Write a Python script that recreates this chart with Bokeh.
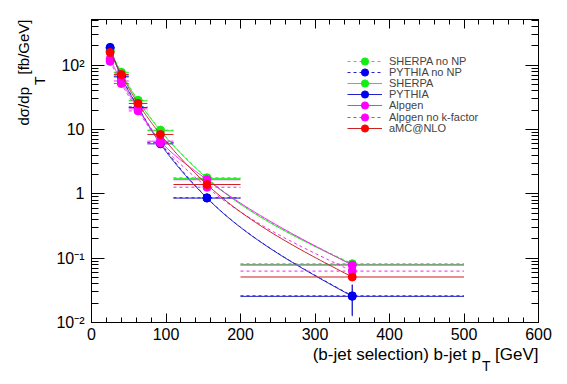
import numpy as np
from bokeh.plotting import figure
from bokeh.models import (Range1d, FixedTicker, LinearAxis, LogAxis, CustomJSTickFormatter,
                          Title, Legend, LegendItem)
from bokeh.embed import file_html
from bokeh.resources import INLINE

# ---------------- data ----------------
bin_lo = [20, 30, 50, 75, 110, 200]
bin_hi = [30, 50, 75, 110, 200, 500]
bin_center = [25, 40, 62.5, 92.5, 155, 350]

series_names = ["SHERPA no NP", "PYTHIA no NP", "SHERPA", "PYTHIA",
                "Alpgen", "Alpgen no k-factor", "aMC@NLO"]

sherpa_nonp = [170, 78, 28.5, 9.8, 1.78, 0.082]
pythia_nonp = [185, 68, 22.5, 6.3, 0.87, 0.026]
sherpa = [165, 76, 28.0, 9.6, 1.74, 0.080]
pythia = [190, 66, 22.0, 6.0, 0.86, 0.0255]
alpgen = [125, 57, 21.0, 6.6, 1.66, 0.078]
alpgen_nok = [115, 52, 19.5, 6.2, 1.27, 0.063]
amcnlo = [158, 72, 25.5, 8.4, 1.40, 0.051]

sherpa_nonp_err = [4, 1.5, 0.5, 0.2, 0.04, 0.003]
pythia_nonp_err = [4, 1.5, 0.5, 0.15, 0.03, 0.013]
sherpa_err = [4, 1.5, 0.5, 0.2, 0.04, 0.003]
pythia_err = [4, 1.5, 0.5, 0.15, 0.03, 0.013]
alpgen_err = [3, 1.2, 0.4, 0.15, 0.04, 0.003]
alpgen_nok_err = [3, 1.2, 0.4, 0.15, 0.04, 0.003]
amcnlo_err = [3, 1.2, 0.4, 0.15, 0.03, 0.002]

x_major_ticks = [0, 100, 200, 300, 400, 500, 600]
x_minor_ticks = list(range(0, 601, 20))
y_major_ticks = [0.01, 0.1, 1, 10, 100]
y_minor_ticks = [m * 10.0 ** e for e in range(-2, 3) for m in range(2, 10)]

x_title = "(b-jet selection) b-jet p\u00a0\u00a0\u00a0[GeV]"
y_title = "d\u03c3/dp\u00a0\u00a0\u00a0[fb/GeV]"
sub_text = "T"

values = [sherpa_nonp, pythia_nonp, sherpa, pythia, alpgen, alpgen_nok, amcnlo]
errors = [sherpa_nonp_err, pythia_nonp_err, sherpa_err, pythia_err,
          alpgen_err, alpgen_nok_err, amcnlo_err]

# ---------------- styles ----------------
marker_colors = ["#11ee11", "#0000ee", "#11ee11", "#0000ee", "#ff00ff", "#ff00ff", "#ff0000"]
line_colors = ["#22ee22", "#2222cc", "#22ee22", "#2222cc", "#ff22ff", "#ee22ee", "#cc2222"]
dashes = ["3 3", "3 3", "solid", "solid", "solid", "3 3", "solid"]

XMIN, XMAX = 0, 600
YMIN, YMAX = 0.01, 515
W, H = 567, 384
BL, BR, BT, BB = 91, 29, 19, 62
FW, FH = W - BL - BR, H - BT - BB
FONT = "Liberation Sans"
LY0, LY1 = np.log10(YMIN), np.log10(YMAX)

p = figure(width=W, height=H, x_range=Range1d(XMIN, XMAX), y_range=Range1d(YMIN, YMAX),
           y_axis_type="log", output_backend="svg", toolbar_location=None,
           min_border_left=BL, min_border_right=BR, min_border_top=BT, min_border_bottom=BB)
p.xgrid.visible = False
p.ygrid.visible = False
p.outline_line_color = "black"
p.background_fill_color = "white"
p.border_fill_color = "white"


def smooth(xs, ys, n=40):
    """Chord-length Catmull-Rom style curve through points, in screen-like space."""
    sx = FW / (XMAX - XMIN)
    sy = FH / (LY1 - LY0)
    P = np.column_stack([(np.asarray(xs, float) - XMIN) * sx, np.log10(ys) * sy])
    d = np.linalg.norm(np.diff(P, axis=0), axis=1)
    m = len(P)
    T = np.zeros_like(P)
    for i in range(1, m - 1):
        T[i] = ((P[i] - P[i - 1]) / d[i - 1] * d[i] + (P[i + 1] - P[i]) / d[i] * d[i - 1]) / (d[i - 1] + d[i])
    T[0] = (3 * (P[1] - P[0]) / d[0] - T[1]) / 2
    T[-1] = (3 * (P[-1] - P[-2]) / d[-1] - T[-2]) / 2
    t = np.linspace(0, 1, n)[1:][:, None]
    h00 = 2 * t ** 3 - 3 * t ** 2 + 1
    h10 = t ** 3 - 2 * t ** 2 + t
    h01 = -2 * t ** 3 + 3 * t ** 2
    h11 = t ** 3 - t ** 2
    out = [P[0:1]]
    for i in range(m - 1):
        out.append(h00 * P[i] + h10 * T[i] * d[i] + h01 * P[i + 1] + h11 * T[i + 1] * d[i])
    Q = np.vstack(out)
    return Q[:, 0] / sx + XMIN, 10 ** (Q[:, 1] / sy)


items = []
for name, ys, es, mc, lc, dash in zip(series_names, values, errors, marker_colors, line_colors, dashes):
    cx, cy = smooth(bin_center, ys)
    lr = p.line(cx, cy, line_color=lc, line_width=1, line_dash=dash)
    p.segment(x0=bin_lo, y0=ys, x1=bin_hi, y1=ys, line_color=lc, line_width=1, line_dash=dash)
    lo = [y - e for y, e in zip(ys, es)]
    hi = [y + e for y, e in zip(ys, es)]
    p.segment(x0=bin_center, y0=lo, x1=bin_center, y1=hi, line_color=lc, line_width=1)
    sr = p.scatter(bin_center, ys, size=8, marker="circle", fill_color=mc, line_color=mc)
    items.append(LegendItem(label=name, renderers=[lr, sr]))

# one legend per entry, so the row pitch can be tighter than the glyph box
GH = 18
PITCH = 11.1
FIRST_CENTER = 61 - BT  # from frame top
for k, it in enumerate(items):
    center_from_top = FIRST_CENTER + PITCH * k
    loc_y = int(round(FH - center_from_top - GH / 2))
    lg = Legend(items=[it], location=(256, loc_y), orientation="vertical",
                glyph_width=35, glyph_height=GH, spacing=0, label_standoff=7,
                padding=0, margin=0, border_line_alpha=0, background_fill_alpha=0,
                label_text_font=FONT, label_text_font_size="11px", label_height=11)
    p.add_layout(lg)

# ---------------- axes ----------------
xt = FixedTicker(ticks=x_major_ticks, minor_ticks=x_minor_ticks)
yt = FixedTicker(ticks=y_major_ticks, minor_ticks=y_minor_ticks)

yfmt = CustomJSTickFormatter(code="""
const e = Math.round(Math.log10(tick));
if (e == 0) return "1";
if (e == 1) return "10";
const sup = {"-": "\\u207b", "0": "\\u2070", "1": "\\u00b9", "2": "\\u00b2", "3": "\\u00b3"};
let s = "";
for (const c of String(e)) s += sup[c];
return "10" + s;
""")
blank = CustomJSTickFormatter(code='return "";')

xa = p.xaxis[0]
xa.ticker = xt
ya = p.yaxis[0]
ya.ticker = yt
ya.formatter = yfmt

top = LinearAxis(ticker=xt, formatter=blank)
right = LogAxis(ticker=yt, formatter=blank)
p.add_layout(top, "above")
p.add_layout(right, "right")

for ax in (xa, top):
    ax.major_tick_in = 9
    ax.major_tick_out = 0
    ax.minor_tick_in = 5
    ax.minor_tick_out = 0
for ax in (ya, right):
    ax.major_tick_in = 13
    ax.major_tick_out = 0
    ax.minor_tick_in = 7
    ax.minor_tick_out = 0
for ax in (xa, ya, top, right):
    ax.axis_line_color = "black"
    ax.major_tick_line_color = "black"
    ax.minor_tick_line_color = "black"
    ax.major_label_text_font = FONT
    ax.major_label_text_color = "black"
    ax.major_label_text_font_size = "16px"
for ax in (top, right):
    ax.major_label_standoff = 0
xa.major_label_standoff = 5
ya.major_label_standoff = 7

# ---------------- axis titles (side panels) ----------------
def mk_title(text, size, offset, valign="bottom", standoff=0):
    return Title(text=text, align="right", vertical_align=valign, offset=offset, standoff=standoff,
                 text_font=FONT, text_font_size=size, text_font_style="normal", text_color="black")

p.add_layout(mk_title(x_title, "17px", 0), "below")
p.add_layout(mk_title(sub_text, "14px", 48, valign="top", standoff=-12), "below")
p.add_layout(mk_title(sub_text, "14px", 57, valign="bottom", standoff=12), "left")
p.add_layout(mk_title(y_title, "15px", 0, valign="bottom", standoff=-16), "left")

open("out.html", "w").write(file_html(p, INLINE))
